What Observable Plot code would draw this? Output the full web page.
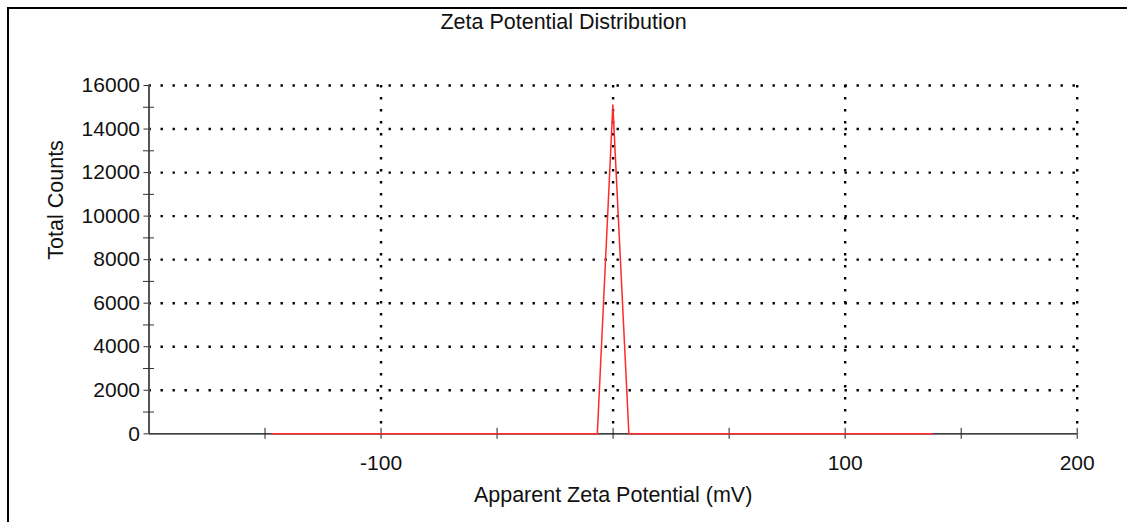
<!DOCTYPE html>
<html>
<head>
<meta charset="utf-8">
<script src="https://cdn.jsdelivr.net/npm/d3@7"></script>
<script src="https://cdn.jsdelivr.net/npm/@observablehq/plot@0.6"></script>
<style>
  html, body { margin: 0; padding: 0; background: #fff; overflow: hidden; }
  #page { position: relative; width: 1127px; height: 522px; font-family: "Liberation Sans", Arial, sans-serif; }
  #frame { position: absolute; left: 7px; top: 7px; width: 1300px; height: 700px;
           border-left: 2.5px solid #000; border-top: 2.5px solid #000; pointer-events: none; }
  #title { height: 40px; box-sizing: border-box; padding-top: 11.5px; text-align: center;
           font-size: 21.5px; line-height: 21.5px; color: #111; }
</style>
</head>
<body>
<div id="page">
  <div id="frame"></div>
  <div id="title">Zeta Potential Distribution</div>
  <div id="chart"></div>
</div>
<script>
// Zeta potential distribution (mV vs total counts)
const potential = [-147, -6.8, -0.1, 6.8, 137.5];
const counts    = [0, 0, 15100, 0, 0];

// Axis ticks and labels
const xMajorTicks = [-100, 0, 100, 200];
const xMinorTicks = [-150, -50, 50, 150];
const xTickLabels = [-100, 100, 200];
const yMajorTicks = [0, 2000, 4000, 6000, 8000, 10000, 12000, 14000, 16000];
const yMinorTicks = [1000, 3000, 5000, 7000, 9000, 11000, 13000, 15000];
const yGridLines  = [2000, 4000, 6000, 8000, 10000, 12000, 14000, 16000];

const xLabel = "Apparent Zeta Potential (mV)";
const yLabel = "Total Counts";

const data = potential.map((x, i) => ({x, y: counts[i]}));
const dotted = {stroke: "#000", strokeOpacity: 1, strokeWidth: 2.4, strokeDasharray: "2.4,9.6"};
const blank = () => "";

const chart = Plot.plot({
  width: 1127,
  height: 482,
  marginTop: 45,
  marginBottom: 88.7,
  marginLeft: 148.5,
  marginRight: 50.3,
  style: {fontFamily: "'Liberation Sans', Arial, sans-serif", fontSize: "21px", color: "#111", background: "transparent"},
  x: {domain: [-200, 200], axis: null},
  y: {domain: [0, 16000], axis: null},
  marks: [
    Plot.gridY(yGridLines, dotted),
    Plot.gridX(xMajorTicks, dotted),
    // axis lines
    Plot.ruleX([-200], {stroke: "#555", strokeWidth: 2}),
    Plot.ruleY([0], {stroke: "#000", strokeWidth: 1.2}),
    // y ticks
    Plot.axisY(yMajorTicks, {tickSize: 5, tickFormat: blank, stroke: "#333", label: null}),
    Plot.axisY(yMinorTicks, {tickSize: 11, dx: 5.5, tickFormat: blank, stroke: "#333", label: null}),
    Plot.axisY(yMajorTicks, {tickSize: 0, tickPadding: 9, fontSize: 21, label: null, tickFormat: d => String(d)}),
    // x ticks
    Plot.axisX(xMajorTicks.concat(xMinorTicks), {tickSize: 11, dy: -5.5, tickFormat: blank, stroke: "#222", label: null}),
    Plot.axisX(xTickLabels, {tickSize: 0, tickPadding: 21, fontSize: 21, label: null, tickFormat: d => String(d)}),
    // distribution
    Plot.line(data, {x: "x", y: "y", stroke: "#ff2a2a", strokeWidth: 1.5}),
    // axis titles
    Plot.text([xLabel], {frameAnchor: "bottom", dy: 61.8, fontSize: 21.5, lineAnchor: "middle", fill: "#111"}),
    Plot.text([yLabel], {frameAnchor: "left", dx: -92.5, rotate: -90, fontSize: 21.5, lineAnchor: "middle", fill: "#111"})
  ]
});
document.getElementById("chart").appendChild(chart);
</script>
</body>
</html>
